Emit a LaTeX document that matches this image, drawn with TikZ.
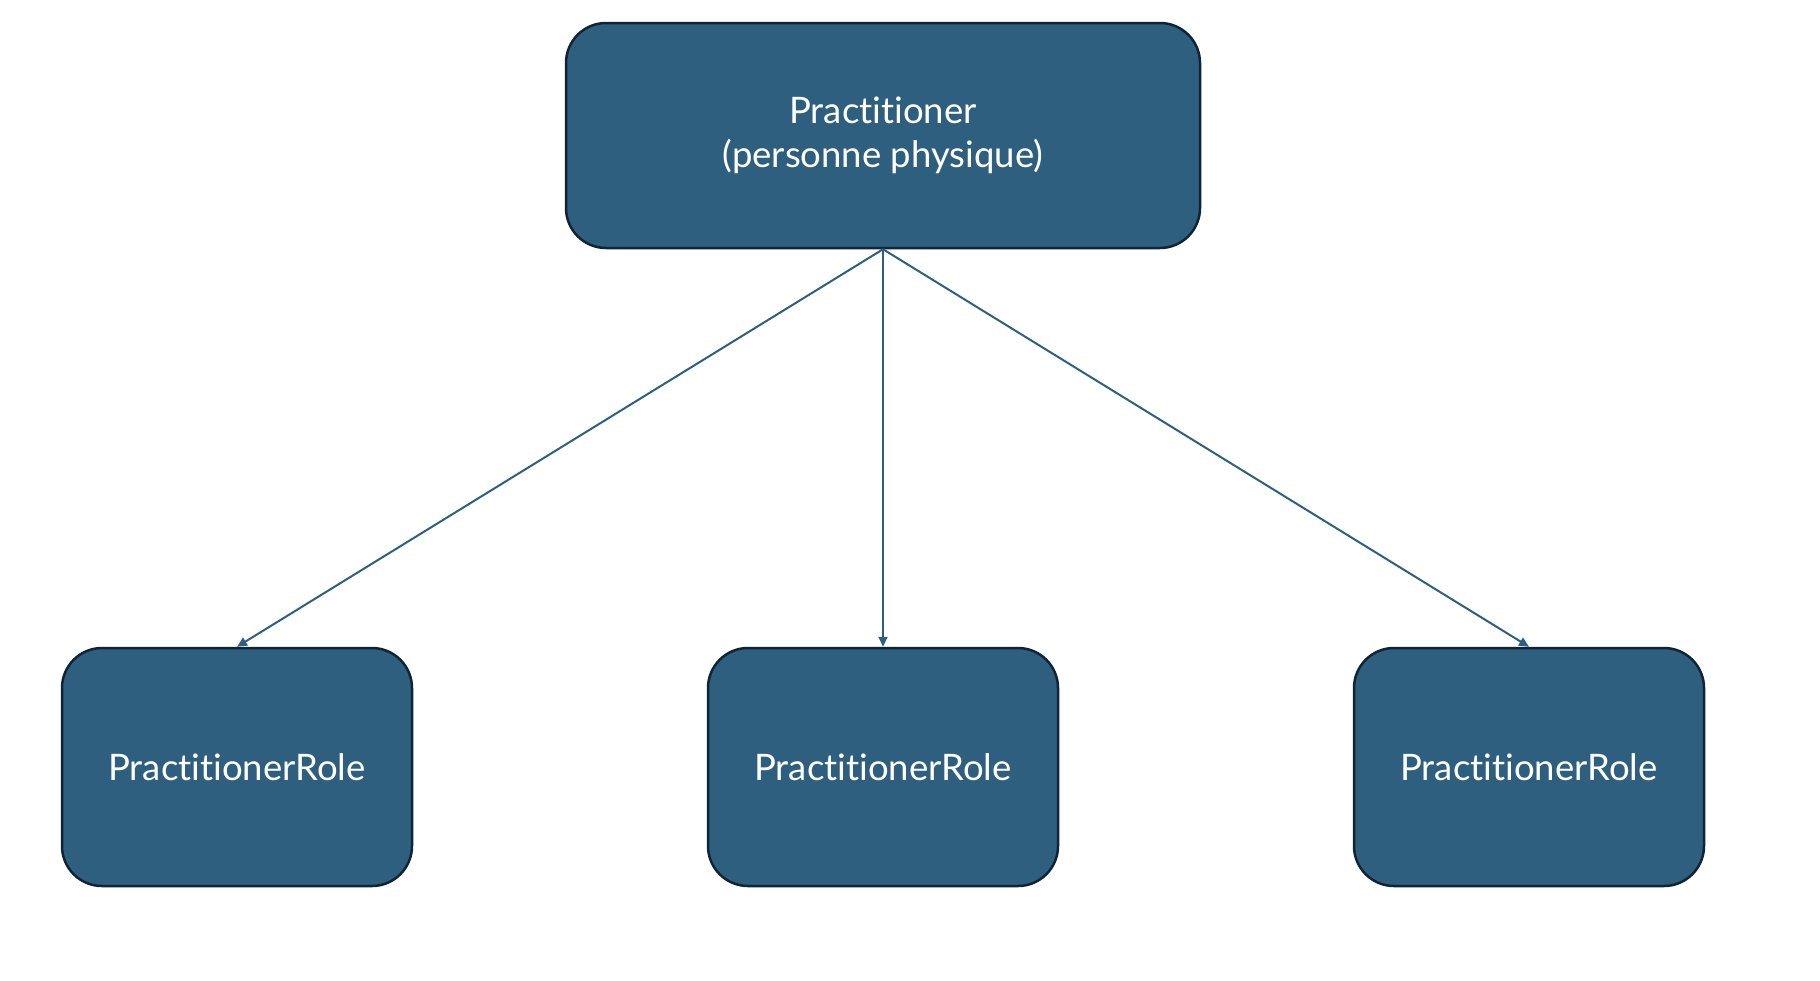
\documentclass[tikz,border=0pt]{standalone}
\usepackage{fontspec}
\setmainfont{Lato}[Ligatures=CommonOff]
\usetikzlibrary{arrows.meta}
\definecolor{boxfill}{HTML}{2F5F7F}
\definecolor{boxline}{HTML}{0F2536}
\begin{document}
\begin{tikzpicture}[x=1pt,y=-1pt,
 box/.style={draw=boxline, fill=boxfill, line width=2.5pt, rounded corners=40pt, text=white, font=\fontsize{36.5}{44}\selectfont, align=center, inner sep=0pt},
 rolebox/.style={box, minimum width=350pt, minimum height=238pt},
 conn/.style={draw=boxfill, line width=2pt, -{Triangle[length=10pt,width=9pt]}}]
\useasboundingbox (0,0) rectangle (1820,980);
\node[box, minimum width=634pt, minimum height=225pt] (top) at (883,135.5) {Practitioner\\(personne physique)};
\node[rolebox] (l) at (237,767) {PractitionerRole};
\node[rolebox] (m) at (883,767) {PractitionerRole};
\node[rolebox] (r) at (1529,767) {PractitionerRole};
\draw[conn] (top.south) -- (l.north);
\draw[conn] (top.south) -- (m.north);
\draw[conn] (top.south) -- (r.north);
\end{tikzpicture}
\end{document}
